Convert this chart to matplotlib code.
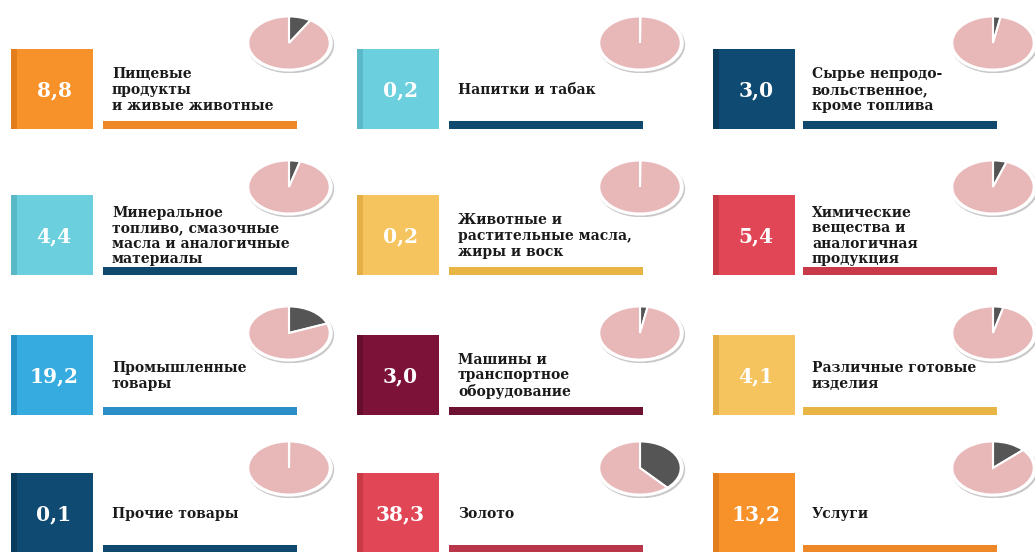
import matplotlib
matplotlib.use("Agg")
import matplotlib.pyplot as plt
from matplotlib.patches import Rectangle, Circle

# shares, % of total
shares = [8.8, 0.2, 3.0, 4.4, 0.2, 5.4, 19.2, 3.0, 4.1, 0.1, 38.3, 13.2]
labels = [
    "Пищевые\nпродукты\nи живые животные",
    "Напитки и табак",
    "Сырье непродо-\nвольственное,\nкроме топлива",
    "Минеральное\nтопливо, смазочные\nмасла и аналогичные\nматериалы",
    "Животные и\nрастительные масла,\nжиры и воск",
    "Химические\nвещества и\nаналогичная\nпродукция",
    "Промышленные\nтовары",
    "Машины и\nтранспортное\nоборудование",
    "Различные готовые\nизделия",
    "Прочие товары",
    "Золото",
    "Услуги",
]
box_colors = ["#F7922A", "#6CCFDD", "#0E4A72",
              "#6CCFDD", "#F6C45E", "#E04656",
              "#35ABDF", "#7D1238", "#F6C45E",
              "#0E4A72", "#E04656", "#F7922A"]
strip_colors = ["#E27F1C", "#59B9C7", "#0A3C5E",
                "#59B9C7", "#E6AF45", "#C93845",
                "#2590C4", "#680C2D", "#E6AF45",
                "#0A3C5E", "#C93845", "#E27F1C"]
line_colors = ["#EE8826", "#0F4A6E", "#0F4A6E",
               "#0F4A6E", "#E8B444", "#C83A4A",
               "#2A8FC9", "#6E1233", "#E8B444",
               "#0F4A6E", "#B8354A", "#EE8826"]

W, H = 1035, 552
box_x = [11, 357, 713]
line_x = [103, 449, 803]
line_w = 194
row_top = [49, 195, 335, 473]
box_w, box_h = 82, 80
pie_cx = [289, 640, 993]
pie_cy = [43, 187, 333, 468]

fig = plt.figure(figsize=(W / 100, H / 100), dpi=100)
ax = fig.add_axes([0, 0, 1, 1])
ax.set_xlim(0, W)
ax.set_ylim(H, 0)
ax.axis("off")

for i, v in enumerate(shares):
    r, c = divmod(i, 3)
    x0, y0 = box_x[c], row_top[r]
    ax.add_patch(Rectangle((x0, y0), box_w, box_h, color=box_colors[i], lw=0))
    ax.add_patch(Rectangle((x0, y0), 6, box_h, color=strip_colors[i], lw=0))
    ax.text(x0 + box_w / 2 + 2, y0 + box_h / 2 + 1, f"{v:.1f}".replace(".", ","),
            color="white", fontsize=14.5, fontweight="bold", family="DejaVu Serif",
            ha="center", va="center")
    ax.add_patch(Rectangle((line_x[c], y0 + box_h - 8), line_w, 8,
                           color=line_colors[i], lw=0))
    ax.text(line_x[c] + 9, y0 + box_h / 2 + 1, labels[i], color="#1a1a1a",
            fontsize=10, fontweight="bold", family="DejaVu Serif",
            ha="left", va="center", linespacing=1.15)

    # tilted pie
    pw, ph = 92, 60
    pax = fig.add_axes([(pie_cx[c] - pw / 2) / W, 1 - (pie_cy[r] + ph / 2) / H,
                        pw / W, ph / H])
    pax.add_patch(Circle((0.03, -0.06), 1.0, color="#C8C8C8", lw=0))
    pax.add_patch(Circle((0, 0), 1.0, color="white", lw=0))
    pax.pie([v, 100 - v], colors=["#555555", "#E8B7B8"], startangle=90,
            counterclock=False, radius=0.93,
            wedgeprops=dict(edgecolor="white", linewidth=1.5))
    pax.set_aspect("auto")
    pax.set_xlim(-1.05, 1.05)
    pax.set_ylim(-1.05, 1.05)
    pax.axis("off")

plt.savefig("out.png", dpi=100)
plt.close()
